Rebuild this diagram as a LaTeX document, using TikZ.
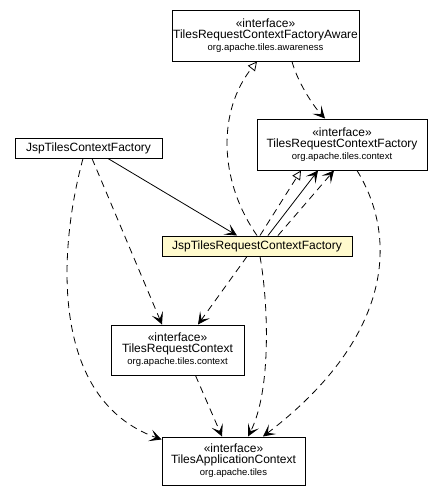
\documentclass[tikz,border=0pt]{standalone}
\usepackage{fontspec}
\setmainfont{Liberation Sans}
\usetikzlibrary{arrows.meta}
\definecolor{classfill}{RGB}{255,250,205}
\newcommand{\pkg}[1]{{\fontsize{9.5}{10}\selectfont #1}}
\tikzset{
  cls/.style={draw, line width=1pt, fill=white, align=center, inner sep=0pt,
    font=\fontsize{12}{12}\selectfont},
  dep/.style={line width=0.8pt, dash pattern=on 7pt off 5pt,
    -{Stealth[length=12pt,width=12pt,inset=6pt]}},
  assoc/.style={line width=0.8pt, -{Stealth[length=12pt,width=12pt,inset=6pt]}},
  realize/.style={line width=0.8pt, dash pattern=on 7pt off 5pt,
    -{Triangle[open,length=9pt,width=9pt]}}
}
\begin{document}
\begin{tikzpicture}[x=1pt,y=-1pt]
\useasboundingbox (0,0) rectangle (443,496);
% classes
\node[cls, minimum width=187pt, minimum height=51pt] (aware) at (265.5,35.5)
  {«interface»\\[-1pt]TilesRequestContextFactoryAware\\\pkg{org.apache.tiles.awareness}};
\node[cls, minimum width=170pt, minimum height=51pt] (reqfac) at (342,144.5)
  {«interface»\\[-1pt]TilesRequestContextFactory\\\pkg{org.apache.tiles.context}};
\node[cls, minimum width=147pt, minimum height=20pt] (jspctx) at (88.5,148)
  {JspTilesContextFactory};
\node[cls, fill=classfill, minimum width=190pt, minimum height=20pt] (jspreq) at (257,246)
  {JspTilesRequestContextFactory};
\node[cls, minimum width=133pt, minimum height=50pt] (reqctx) at (177.5,350)
  {«interface»\\[-1pt]TilesRequestContext\\\pkg{org.apache.tiles.context}};
\node[cls, minimum width=143pt, minimum height=48pt] (appctx) at (233.5,461)
  {«interface»\\[-1pt]TilesApplicationContext\\\pkg{org.apache.tiles}};
% relations
\draw[realize] (jspreq.north) .. controls +(-39,-56) and +(-39,49) .. ([xshift=-8.5pt]aware.south);
\draw[dep] ([xshift=26.5pt]aware.south) .. controls +(5,19) and +(-13,-14) .. ([xshift=-17pt]reqfac.north);
\draw[assoc] ([xshift=19.5pt]jspctx.south) -- ([xshift=-20pt]jspreq.north);
\draw[realize] ([xshift=3pt]jspreq.north) -- ([xshift=-41pt]reqfac.south);
\draw[assoc] ([xshift=11pt]jspreq.north) -- ([xshift=-24pt]reqfac.south);
\draw[dep] ([xshift=21pt]jspreq.north) -- ([xshift=-8pt]reqfac.south);
\draw[dep] ([xshift=15pt]reqfac.south) .. controls +(43,70) and +(127,-97) .. ([xshift=29.5pt]appctx.north);
\draw[dep] ([xshift=3.5pt]jspctx.south) -- ([xshift=-15.5pt]reqctx.north);
\draw[dep] ([xshift=-5.5pt]jspctx.south) .. controls +(-25,92) and +(-112,-40) .. ([yshift=-3pt]appctx.north west);
\draw[dep] ([xshift=-10pt]jspreq.south) -- ([xshift=20.5pt]reqctx.north);
\draw[dep] ([xshift=3pt]jspreq.south) .. controls +(8,44) and +(24,-47) .. ([xshift=14.5pt]appctx.north);
\draw[dep] ([xshift=18pt]reqctx.south) -- ([xshift=-11.5pt]appctx.north);
\end{tikzpicture}
\end{document}
